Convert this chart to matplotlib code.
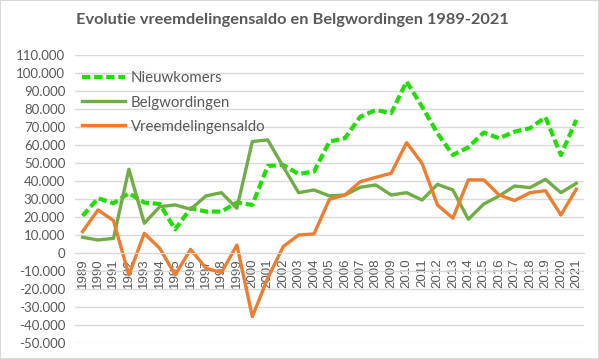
import matplotlib.pyplot as plt
from matplotlib.ticker import FuncFormatter
from matplotlib.patches import Rectangle

plt.rcParams["font.family"] = ["Lato", "DejaVu Sans"]

jaren = [str(j) for j in range(1989, 2022)]

nieuwkomers = [20600, 30400, 27600, 33200, 28000, 27200, 13100, 24800, 23000, 23000,
               28000, 26700, 48300, 48900, 43900, 45200, 61900, 63700, 75700, 79400,
               77600, 95200, 81300, 66500, 54400, 58700, 66900, 63700, 67400, 69300,
               75400, 54400, 73900]
belgwordingen = [8700, 7200, 8100, 46500, 16500, 25700, 26700, 24300, 31700, 33500,
                 24800, 61900, 62800, 48000, 33500, 35000, 31700, 32200, 36500, 37800,
                 32200, 33500, 29400, 38100, 35000, 18700, 27200, 31700, 37200, 36300,
                 40900, 33500, 38700]
saldo = [11900, 23900, 18000, -12200, 10900, 2600, -12200, 2000, -8500, -10900,
         4400, -35400, -14000, 3500, 10000, 10600, 29800, 32200, 39600, 42000,
         44300, 61300, 49800, 26700, 19300, 40600, 40600, 32200, 29100, 33500,
         34600, 21100, 35400]

grijs = "#595959"
raster = "#D9D9D9"

fig = plt.figure(figsize=(5.99, 3.59), dpi=100)
ax = fig.add_axes([0.125, 0.0446, 0.85, 0.8024])

# x-as op hoogte 0 (eerst zetten, anders worden de ticks gereset)
ax.spines["bottom"].set_position(("data", 0))
ax.spines["bottom"].set_color(raster)
for s in ["top", "right", "left"]:
    ax.spines[s].set_visible(False)

x = range(len(jaren))
ax.plot(x, nieuwkomers, color="#22DD00", lw=3.0, ls=(0, (2.0, 0.9)), label="Nieuwkomers")
ax.plot(x, belgwordingen, color="#70AD47", lw=2.4, label="Belgwordingen")
ax.plot(x, saldo, color="#ED7D31", lw=2.4, label="Vreemdelingensaldo")

ax.set_xlim(-0.5, len(jaren) - 0.5)
ax.set_ylim(-50000, 110000)
ax.set_yticks(range(-50000, 110001, 10000))
ax.yaxis.set_major_formatter(FuncFormatter(lambda v, p: f"{int(v):,}".replace(",", ".")))
ax.set_xticks(list(x))
ax.set_xticklabels(jaren, rotation=90, family=["Liberation Sans", "DejaVu Sans"], fontsize=9.5)

ax.grid(axis="y", color=raster, lw=1)
ax.set_axisbelow(True)
ax.tick_params(axis="both", length=0, colors=grijs)
ax.tick_params(axis="y", pad=7, labelsize=9.5)
ax.tick_params(axis="x", pad=4)

leg = ax.legend(loc="upper left", bbox_to_anchor=(-0.012, 0.99), frameon=False,
                fontsize=10.8, handlelength=2.85, handletextpad=0.4, labelspacing=0.68)
for t in leg.get_texts():
    t.set_color(grijs)

fig.text(0.4875, 0.944, "Evolutie vreemdelingensaldo en Belgwordingen 1989-2021",
         ha="center", va="center", fontsize=11.75, fontweight="bold", color=grijs)

fig.patches.append(Rectangle((0, 0), 1, 1, transform=fig.transFigure, fill=False,
                             edgecolor=raster, lw=1.5))

fig.savefig("out.png", dpi=100)
